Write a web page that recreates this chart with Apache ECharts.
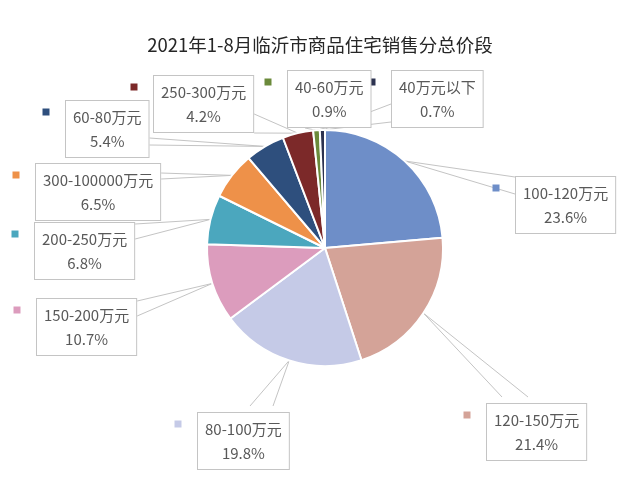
<!DOCTYPE html>
<html lang="zh-CN">

<head>
    <meta charset="UTF-8">
    <title>2021年1-8月临沂市商品住宅销售分总价段</title>
    <script src="https://cdn.jsdelivr.net/npm/echarts@6/dist/echarts.min.js"></script>
    <style>
        html, body { margin: 0; padding: 0; background: #fff; }
    </style>
</head>

<body>
    <div id="myChart" style="width: 640px; height: 485px;"></div>
    <script>
        // 数据（顺时针，从12点方向开始）
        const names = ['100-120万元', '120-150万元', '80-100万元', '150-200万元', '200-250万元',
            '300-100000万元', '60-80万元', '250-300万元', '40-60万元', '40万元以下'];
        const shares = [23.6, 21.4, 19.8, 10.7, 6.8, 6.5, 5.4, 4.2, 0.9, 0.7];
        const colors = ['#6e8ec8', '#d4a398', '#c5cae7', '#dc9cbd', '#4ba7be',
            '#ee9149', '#2e4f7d', '#7c2929', '#6b8a3b', '#2c3250'];

        // 标签框左上角位置（布局用）
        const boxPos = [[515, 176], [486, 403], [197, 412], [36, 298], [34, 222],
            [35, 163], [65, 100], [153, 75], [287, 70], [391, 70]];
        // 标注框尖角的底边：所在边 + 两个偏移量
        const wedges = [['l', 7, 24], ['t', 16, 42], ['t', 53, 76], ['r', 9, 24], ['r', 8, 23],
            ['r', 10, 22], ['r', 32, 45], ['r', 33, 52], ['b', 18, 38], ['l', 28, 46]];

        const boxSize = []; // 标签框实际尺寸，由第一个系列的 labelLayout 记录

        const myChart = echarts.init(document.getElementById('myChart'));

        const pieData = names.map((n, i) => ({
            name: n,
            value: shares[i],
            itemStyle: { color: colors[i] }
        }));

        // 图例小方块（放在标签框左侧）
        const keyData = names.map((n, i) => ({
            name: n,
            value: shares[i],
            label: { rich: { k: { width: 7, height: 7, backgroundColor: colors[i] } } }
        }));

        function wedgePoint(i, k) {
            const b = boxPos[i];
            const s = boxSize[i] || [100, 56];
            const w = wedges[i];
            const off = w[k];
            if (w[0] === 'l') return [b[0], b[1] + off];
            if (w[0] === 'r') return [b[0] + s[0], b[1] + off];
            if (w[0] === 't') return [b[0] + off, b[1]];
            return [b[0] + off, b[1] + s[1]];
        }

        // 透明的辅助系列：只画引导线
        function guideSeries(k) {
            return {
                type: 'pie',
                center: [325, 248],
                radius: 118,
                startAngle: 90,
                avoidLabelOverlap: false,
                silent: true,
                z: 1,
                itemStyle: { color: 'rgba(0,0,0,0)', borderWidth: 0 },
                label: {
                    show: true,
                    position: 'outside',
                    formatter: '{t|}',
                    rich: { t: { width: 1, height: 1 } }
                },
                labelLine: {
                    show: true,
                    length: 1,
                    length2: 0,
                    lineStyle: { color: '#c4c4c4', width: 1 }
                },
                labelLayout: (p) => {
                    const pt = wedgePoint(p.dataIndex, k);
                    return { x: pt[0], y: pt[1], align: 'center', verticalAlign: 'middle' };
                },
                data: names.map((n, i) => ({ name: n, value: shares[i] }))
            };
        }

        const option = {
            backgroundColor: '#fff',
            animation: false,
            title: {
                text: '2021年1-8月临沂市商品住宅销售分总价段',
                left: 'center',
                top: 31,
                textStyle: {
                    fontFamily: 'Noto Sans CJK SC',
                    fontSize: 18.5,
                    fontWeight: 'normal',
                    color: '#262626'
                }
            },
            series: [
                {
                    type: 'pie',
                    center: [325, 248],
                    radius: 118,
                    startAngle: 90,
                    avoidLabelOverlap: false,
                    silent: true,
                    z: 3,
                    itemStyle: { borderColor: '#fff', borderWidth: 2 },
                    label: {
                        show: true,
                        position: 'outside',
                        formatter: (p) => p.name + '\n' + p.value.toFixed(1) + '%',
                        fontFamily: 'Noto Sans CJK SC',
                        fontSize: 15,
                        lineHeight: 24,
                        color: '#595959',
                        backgroundColor: '#fff',
                        borderColor: '#c4c4c4',
                        borderWidth: 1,
                        padding: [4, 7]
                    },
                    labelLine: { show: false },
                    labelLayout: (p) => {
                        const b = boxPos[p.dataIndex];
                        boxSize[p.dataIndex] = [p.labelRect.width, p.labelRect.height];
                        return {
                            x: b[0] + p.labelRect.width / 2,
                            y: b[1] + p.labelRect.height / 2,
                            align: 'center',
                            verticalAlign: 'middle'
                        };
                    },
                    data: pieData
                },
                {
                    type: 'pie',
                    center: [325, 248],
                    radius: 118,
                    startAngle: 90,
                    avoidLabelOverlap: false,
                    silent: true,
                    z: 2,
                    itemStyle: { color: 'rgba(0,0,0,0)', borderWidth: 0 },
                    label: {
                        show: true,
                        position: 'outside',
                        formatter: '{k|}'
                    },
                    labelLine: { show: false },
                    labelLayout: (p) => {
                        const b = boxPos[p.dataIndex];
                        return {
                            x: b[0] - 19,
                            y: b[1] + 12,
                            align: 'center',
                            verticalAlign: 'middle'
                        };
                    },
                    data: keyData
                },
                guideSeries(1),
                guideSeries(2)
            ]
        };
        myChart.setOption(option);
    </script>
</body>

</html>
